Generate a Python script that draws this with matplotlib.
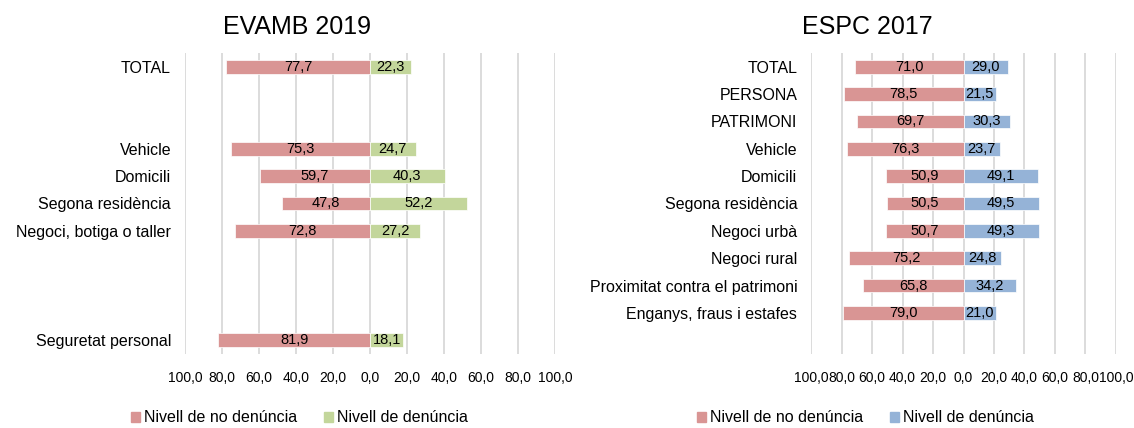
import matplotlib.pyplot as plt
from matplotlib.ticker import FuncFormatter
from matplotlib.patches import Patch

plt.rcParams['font.family'] = ['Liberation Sans', 'DejaVu Sans']

# EVAMB 2019 (empty strings are gaps in the original chart)
evamb_cats = ["TOTAL", "", "", "Vehicle", "Domicili", "Segona residència",
              "Negoci, botiga o taller", "", "", "", "Seguretat personal"]
evamb_no = [77.7, None, None, 75.3, 59.7, 47.8, 72.8, None, None, None, 81.9]
evamb_si = [22.3, None, None, 24.7, 40.3, 52.2, 27.2, None, None, None, 18.1]

# ESPC 2017
espc_cats = ["TOTAL", "PERSONA", "PATRIMONI", "Vehicle", "Domicili",
             "Segona residència", "Negoci urbà", "Negoci rural",
             "Proximitat contra el patrimoni", "Enganys, fraus i estafes", ""]
espc_no = [71.0, 78.5, 69.7, 76.3, 50.9, 50.5, 50.7, 75.2, 65.8, 79.0, None]
espc_si = [29.0, 21.5, 30.3, 23.7, 49.1, 49.5, 49.3, 24.8, 34.2, 21.0, None]

ticks = [-100, -80, -60, -40, -20, 0, 20, 40, 60, 80, 100]

RED = "#D99594"
GREEN = "#C3D69B"
BLUE = "#95B3D7"

fig = plt.figure(figsize=(11.34, 4.28), dpi=100)


def fmt(v):
    return f"{v:.1f}".replace(".", ",")


def panel(rect, cats, no, si, color):
    ax = fig.add_axes(rect)
    pos = list(range(len(cats)))
    for i, (a, b) in enumerate(zip(no, si)):
        if a is None:
            continue
        ax.barh(i, -a, height=0.5, color=RED, edgecolor="white", linewidth=0.5, zorder=2)
        ax.barh(i, b, height=0.5, color=color, edgecolor="white", linewidth=0.5, zorder=2)
        ax.text(-a / 2, i, fmt(a), ha="center", va="center", fontsize=10.5, zorder=3)
        ax.text(b / 2, i, fmt(b), ha="center", va="center", fontsize=10.5, zorder=3)
    ax.set_yticks(pos)
    ax.set_yticklabels(cats, fontsize=11.5)
    ax.set_ylim(len(cats) - 0.5, -0.5)
    ax.set_xlim(-100, 100)
    ax.set_xticks(ticks)
    ax.xaxis.set_major_formatter(FuncFormatter(lambda v, p: fmt(abs(v))))
    ax.tick_params(axis="x", length=0, pad=12, labelsize=10)
    ax.tick_params(axis="y", length=0, pad=10)
    ax.grid(axis="x", color="#D9D9D9", linewidth=1.3, zorder=0)
    ax.set_axisbelow(True)
    for s in ax.spines.values():
        s.set_visible(False)
    return ax


panel([0.1631, 0.1729, 0.3263, 0.7033], evamb_cats, evamb_no, evamb_si, GREEN)
panel([0.7152, 0.1729, 0.2689, 0.7033], espc_cats, espc_no, espc_si, BLUE)

fig.text(0.262, 0.937, "EVAMB 2019", ha="center", va="center", fontsize=18)
fig.text(0.765, 0.937, "ESPC 2017", ha="center", va="center", fontsize=18)

leg_kw = dict(loc="center left", ncol=2, frameon=False, fontsize=11.5,
              handlelength=0.56, handleheight=0.56, handletextpad=0.25,
              columnspacing=1.7, borderaxespad=0, borderpad=0)
fig.legend(handles=[Patch(color=RED, label="Nivell de no denúncia"),
                    Patch(color=GREEN, label="Nivell de denúncia")],
           bbox_to_anchor=(131 / 1134, 1 - 418 / 428), **leg_kw)
fig.legend(handles=[Patch(color=RED, label="Nivell de no denúncia"),
                    Patch(color=BLUE, label="Nivell de denúncia")],
           bbox_to_anchor=(697 / 1134, 1 - 418 / 428), **leg_kw)

fig.savefig("out.png", dpi=100)
